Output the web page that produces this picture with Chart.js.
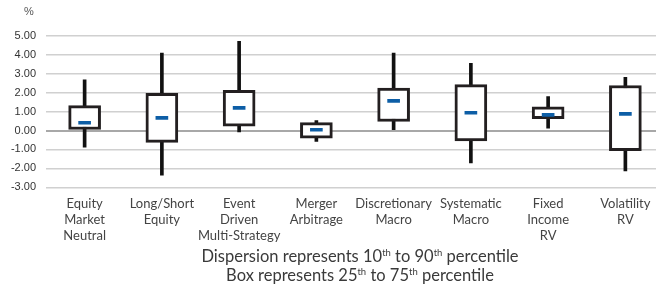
<!DOCTYPE html>
<html>
<head>
<meta charset="utf-8">
<script src="https://cdn.jsdelivr.net/npm/chart.js@4.4.0/dist/chart.umd.min.js"></script>
<style>
  html, body { margin: 0; padding: 0; background: #fff; width: 656px; height: 286px; overflow: hidden; }
  #wrap { position: relative; width: 656px; height: 286px; overflow: hidden; }
  #myChart { position: absolute; left: 0; top: 0; }
  .note { position: absolute; left: 150px; width: 420px; text-align: center; font-family: Lato, sans-serif; font-size: 16.5px; color: #3a3a3a; line-height: 19px; }
  .note sup { font-size: 9.5px; vertical-align: 6px; line-height: 0; }
</style>
</head>
<body>
<div id="wrap">
  <canvas id="myChart" width="664" height="252"></canvas>
  <div class="note" style="top:247px">Dispersion represents 10<sup>th</sup> to 90<sup>th</sup> percentile</div>
  <div class="note" style="top:266px">Box represents 25<sup>th</sup> to 75<sup>th</sup> percentile</div>
</div>
<script>
// Categorias e percentis
var categories = [
    ['Equity', 'Market', 'Neutral'],
    ['Long/Short', 'Equity'],
    ['Event', 'Driven', 'Multi-Strategy'],
    ['Merger', 'Arbitrage'],
    ['Discretionary', 'Macro'],
    ['Systematic', 'Macro'],
    ['Fixed', 'Income', 'RV'],
    ['Volatility', 'RV']
]
var p10 = [-0.88, -2.36, -0.07, -0.58, 0.04, -1.71, 0.12, -2.13]
var p25 = [0.00, -0.63, 0.23, -0.41, 0.48, -0.55, 0.63, -1.06]
var median = [0.41, 0.67, 1.20, 0.04, 1.57, 0.94, 0.83, 0.88]
var p75 = [1.32, 1.97, 2.12, 0.42, 2.24, 2.43, 1.25, 2.38]
var p90 = [2.68, 4.09, 4.72, 0.53, 4.09, 3.56, 1.80, 2.82]
var yTicks = [5, 4, 3, 2, 1, 0, -1, -2, -3]

var whiskers = p10.map((v, i) => [v, p90[i]])
var boxes = p25.map((v, i) => [v, p75[i]])
var medians = median.map((v) => [v - 0.08, v + 0.08])

// escreve o "%" no topo do eixo
var percentLabel = {
    id: 'percentLabel',
    afterDraw(chart) {
        var c = chart.ctx
        c.save()
        c.font = '11px "Liberation Sans", Arial, sans-serif'
        c.fillStyle = '#555'
        c.textAlign = 'left'
        c.textBaseline = 'middle'
        c.fillText('%', 24, 12)
        c.restore()
    }
}

var ctx = document.getElementById('myChart').getContext('2d');
var myChart = new Chart(ctx, {
    type: 'bar',
    data: {
        labels: categories,
        datasets: [
            {
                label: 'Median',
                data: medians,
                backgroundColor: '#0d5ea6',
                barThickness: 12,
                borderWidth: 0
            },
            {
                label: '25-75',
                data: boxes,
                backgroundColor: '#ffffff',
                borderColor: '#231f20',
                borderWidth: 3,
                borderSkipped: false,
                barThickness: 32
            },
            {
                label: '10-90',
                data: whiskers,
                backgroundColor: '#111111',
                barThickness: 3,
                borderWidth: 0
            }
        ]
    },
    options: {
        responsive: false,
        animation: false,
        grouped: false,
        layout: { padding: { top: 36, right: 0, bottom: 0, left: 0 } },
        plugins: {
            legend: { display: false },
            tooltip: { enabled: false }
        },
        scales: {
            x: {
                grid: { display: false, drawTicks: false },
                border: { display: false },
                ticks: {
                    color: '#444',
                    font: { family: 'Lato, sans-serif', size: 13, lineHeight: 1.25 },
                    padding: 8,
                    maxRotation: 0,
                    autoSkip: false
                }
            },
            y: {
                min: -3,
                max: 5,
                afterFit(scale) { scale.width = 46 },
                afterBuildTicks(scale) { scale.ticks = yTicks.map((v) => ({ value: v })) },
                grid: {
                    drawTicks: false,
                    color: (c) => c.tick && c.tick.value === 0 ? '#a8a8a8' : '#d0d0d0',
                    lineWidth: (c) => c.tick && c.tick.value === 0 ? 2 : 1.5
                },
                border: { display: false },
                ticks: {
                    color: '#333',
                    font: { family: '"Liberation Sans", Arial, sans-serif', size: 11 },
                    padding: 10,
                    callback: (v) => v.toFixed(2)
                }
            }
        }
    },
    plugins: [percentLabel]
});
</script>
</body>
</html>
